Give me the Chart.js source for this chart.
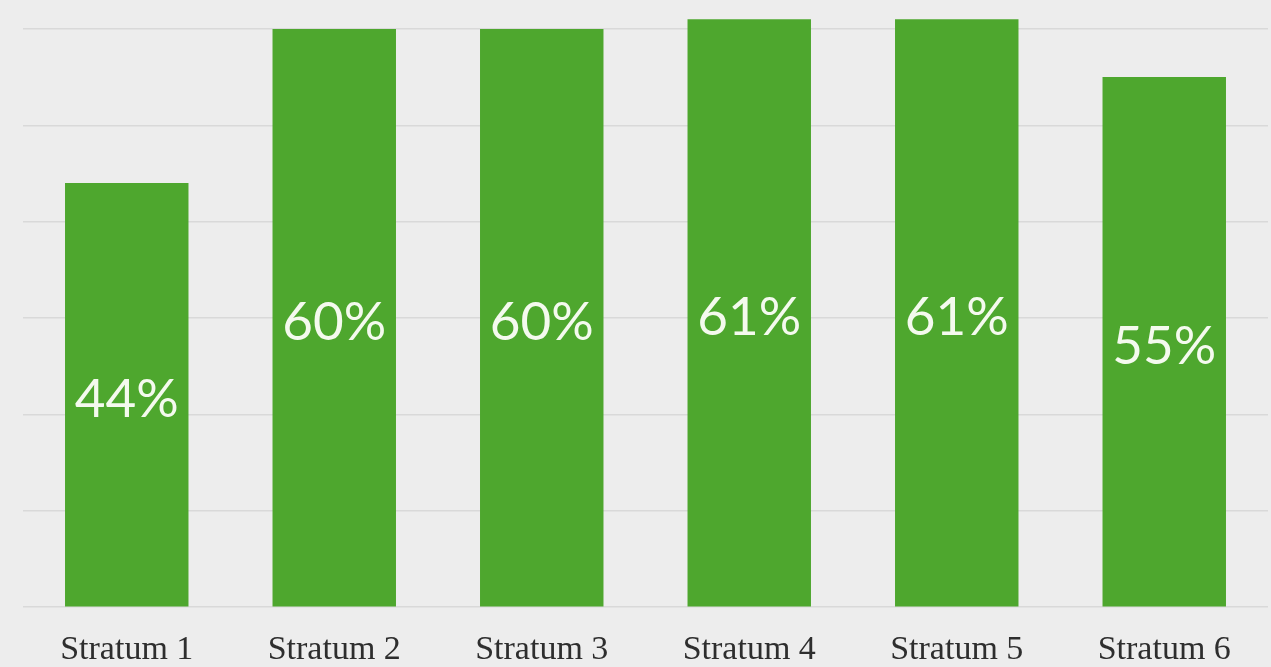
<!DOCTYPE html>
<html>
<head>
<meta charset="utf-8">
<script src="https://cdn.jsdelivr.net/npm/chart.js@4.4.1/dist/chart.umd.min.js"></script>
<style>
  html, body { margin: 0; padding: 0; background: #ededed; }
  #wrap { width: 1271px; height: 667px; }
</style>
</head>
<body>
<div id="wrap"><canvas id="chart"></canvas></div>
<script>
const strata = ['Stratum 1', 'Stratum 2', 'Stratum 3', 'Stratum 4', 'Stratum 5', 'Stratum 6'];
const shares = [44, 60, 60, 61, 61, 55];
const gridSteps = [0, 10, 20, 30, 40, 50, 60];

// percent text in the middle of each bar
const barLabels = {
  id: 'barLabels',
  afterDatasetsDraw(chart) {
    const ctx = chart.ctx;
    const meta = chart.getDatasetMeta(0);
    ctx.save();
    ctx.fillStyle = '#f4faee';
    ctx.font = '53px Lato';
    ctx.textAlign = 'center';
    ctx.textBaseline = 'middle';
    meta.data.forEach((bar, i) => {
      const mid = (bar.y + bar.base) / 2;
      ctx.fillText(shares[i] + '%', bar.x, mid + 5);
    });
    ctx.restore();
  }
};

new Chart(document.getElementById('chart'), {
  type: 'bar',
  data: {
    labels: strata,
    datasets: [{
      data: shares,
      backgroundColor: '#4ea72e',
      borderWidth: 0,
      barPercentage: 0.595,
      categoryPercentage: 1
    }]
  },
  options: {
    responsive: true,
    maintainAspectRatio: false,
    animation: false,
    layout: { padding: { left: 23, right: 3, top: 0, bottom: -17 } },
    plugins: {
      legend: { display: false },
      tooltip: { enabled: false }
    },
    scales: {
      x: {
        grid: { display: false },
        border: { display: false },
        ticks: {
          color: '#2e2e2e',
          padding: 14,
          font: { family: 'Liberation Serif', size: 34 }
        }
      },
      y: {
        min: 0,
        max: 63,
        afterBuildTicks(axis) {
          axis.ticks = gridSteps.map(v => ({ value: v }));
        },
        ticks: { display: false },
        border: { display: false },
        grid: { color: '#d9d9d9', lineWidth: 1.5, drawTicks: false }
      }
    }
  },
  plugins: [barLabels]
});
</script>
</body>
</html>
